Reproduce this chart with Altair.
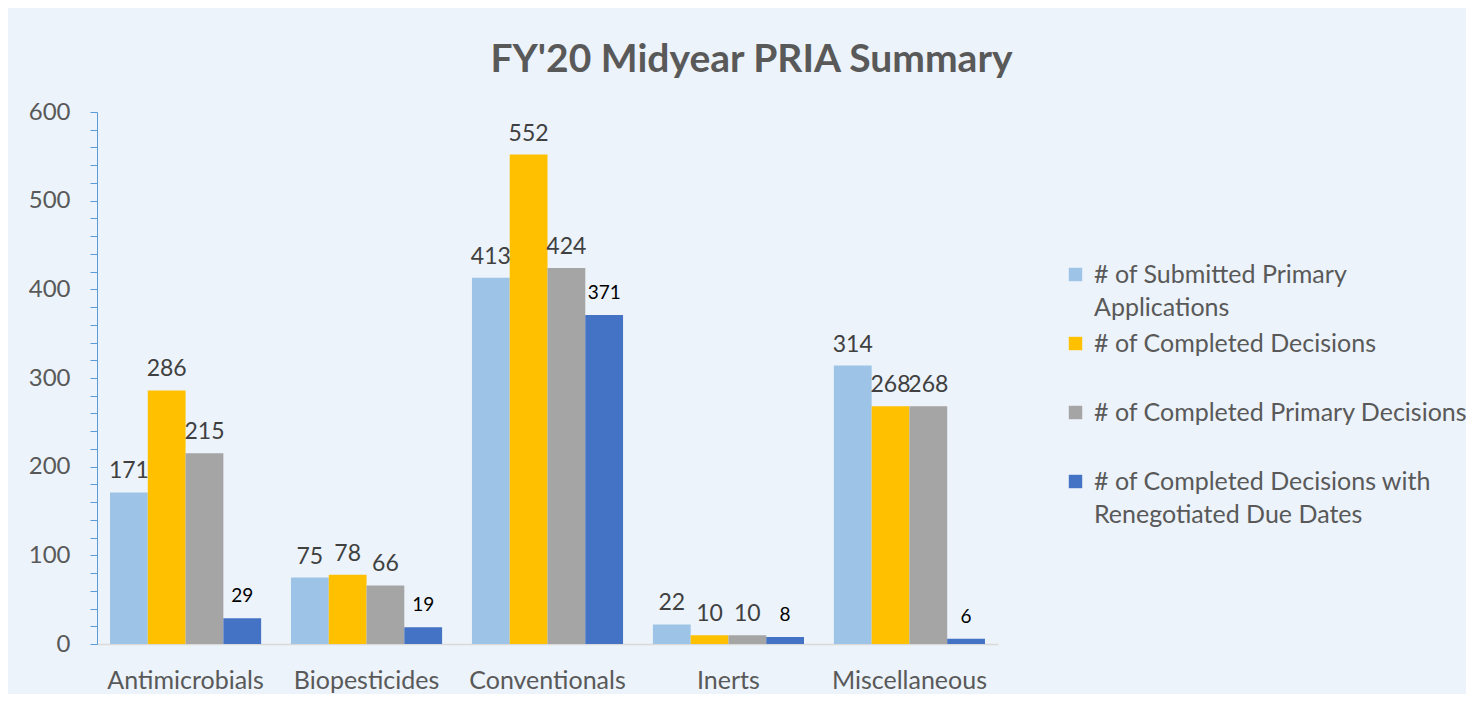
import altair as alt
import pandas as pd

categories = ["Antimicrobials", "Biopesticides", "Conventionals", "Inerts", "Miscellaneous"]
series = [
    "# of Submitted Primary Applications",
    "# of Completed Decisions",
    "# of Completed Primary Decisions",
    "# of Completed Decisions with Renegotiated Due Dates",
]
submitted = [171, 75, 413, 22, 314]
completed = [286, 78, 552, 10, 268]
completed_primary = [215, 66, 424, 10, 268]
renegotiated = [29, 19, 371, 8, 6]
colors = ["#9DC3E6", "#FFC000", "#A5A5A5", "#4472C4"]

rows = []
for s, vals in zip(series, [submitted, completed, completed_primary, renegotiated]):
    for c, v in zip(categories, vals):
        rows.append({"category": c, "series": s, "value": v})
df = pd.DataFrame(rows)

FONT = "Lato"
TXT = "#595959"

x = alt.X("category:N", sort=categories, title=None,
          scale=alt.Scale(paddingInner=0.165, paddingOuter=0.072),
          axis=alt.Axis(labelAngle=0, labelFontSize=25, labelColor=TXT, labelFont=FONT,
                        ticks=False, domainColor="#D9D9D9", domainWidth=1.5, labelPadding=24))
xo = alt.XOffset("series:N", sort=series, scale=alt.Scale(domain=series, paddingInner=0, paddingOuter=0))
y = alt.Y("value:Q", title=None,
          scale=alt.Scale(domain=[0, 600], nice=False),
          axis=alt.Axis(values=list(range(0, 601, 20)),
                        labelExpr="datum.value % 100 == 0 ? datum.label : ''",
                        labelFontSize=24, labelColor=TXT, labelFont=FONT,
                        domainColor="#5B9BD5", tickColor="#5B9BD5", tickSize=7,
                        labelPadding=20, grid=False))

legend_expr = (
    "datum.label == '# of Submitted Primary Applications' ? ['# of Submitted Primary', 'Applications'] : "
    "datum.label == '# of Completed Decisions with Renegotiated Due Dates' ? "
    "['# of Completed Decisions with', 'Renegotiated Due Dates'] : datum.label"
)

bars = alt.Chart(df).mark_bar().encode(
    x=x, xOffset=xo, y=y,
    color=alt.Color("series:N", sort=series,
                    scale=alt.Scale(domain=series, range=colors),
                    legend=alt.Legend(title=None, orient="none", legendX=966, legendY=150,
                                      symbolType="square", symbolSize=180,
                                      symbolStrokeWidth=0, gridAlign="all",
                                      labelFontSize=25, labelColor=TXT, labelFont=FONT,
                                      labelLimit=600, labelExpr=legend_expr,
                                      rowPadding=10, labelOffset=6)),
)

labels_main = alt.Chart(df).transform_filter(
    alt.FieldOneOfPredicate(field="series", oneOf=series[:3])
).mark_text(baseline="alphabetic", dy=-14, fontSize=23, color="#404040", font=FONT).encode(
    x=x, xOffset=xo, y=y, text="value:Q"
)
labels_dark = alt.Chart(df).transform_filter(
    alt.FieldEqualPredicate(field="series", equal=series[3])
).mark_text(baseline="alphabetic", dy=-16, fontSize=19, color="#000000", font=FONT).encode(
    x=x, xOffset=xo, y=y, text="value:Q"
)

chart = alt.layer(bars, labels_main, labels_dark).properties(
    width=901, height=532,
    autosize=alt.AutoSizeParams(type="none"),
    padding={"left": 89, "top": 104, "right": 468, "bottom": 50},
    background="#ECF3FA",
    title=alt.TitleParams("FY'20 Midyear PRIA Summary", fontSize=39, font=FONT,
                          fontWeight="bold", color=TXT, anchor="middle", frame="group",
                          dx=204, offset=20),
).configure(style={"guide-label": {"lineHeight": 33}}).configure_view(stroke=None)

chart.save("out.html", embed_options={"renderer": "svg", "actions": False})
